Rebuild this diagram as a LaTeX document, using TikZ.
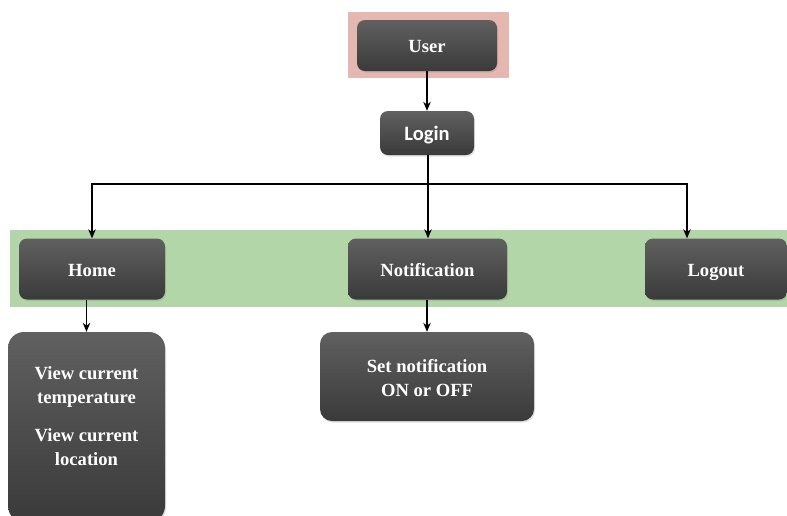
\documentclass[tikz,border=0pt]{standalone}
\usepackage{fontspec}
\setmainfont{Liberation Serif}
\newfontfamily\loginfont{Carlito}
\usetikzlibrary{arrows.meta,shadows}
\definecolor{boxtop}{HTML}{606060}
\definecolor{boxbot}{HTML}{3A3A3A}
\definecolor{pinkbg}{HTML}{E5B7B1}
\definecolor{greenbg}{HTML}{B3D6A8}
\tikzset{
  darkbox/.style={rounded corners=8, draw=none, top color=boxtop, bottom color=boxbot,
    text=white, align=center, inner sep=0,
    font=\bfseries\fontsize{18.6}{24}\selectfont,
    drop shadow={opacity=0.25, shadow xshift=1pt, shadow yshift=-1.5pt}},
  oneline/.style={text height=16, text depth=1.6},
  conn/.style={line width=1.3, draw=black},
  arr/.style={conn, -{Stealth[length=9,width=7.5]}}
}
\begin{document}
\begin{tikzpicture}[x=1pt,y=-1pt]
\useasboundingbox (0,0) rectangle (787,515);
\clip (0,0) rectangle (787,515);
\fill[white] (0,0) rectangle (787,515);
% backgrounds
\fill[pinkbg] (348,12) rectangle (509,78);
\fill[greenbg] (10,230) rectangle (787,307);
% nodes
\node[darkbox, oneline, minimum width=140, minimum height=51] (user) at (427,45.5) {User};
\node[darkbox, oneline, minimum width=94, minimum height=44, font=\loginfont\bfseries\fontsize{20.5}{24}\selectfont] (login) at (427,133) {Login};
\node[darkbox, oneline, minimum width=146, minimum height=61] (home) at (92,269) {Home};
\node[darkbox, oneline, minimum width=159, minimum height=61] (notif) at (427.5,269) {Notification};
\node[darkbox, oneline, minimum width=142, minimum height=61] (logout) at (716,269) {Logout};
\node[darkbox, rounded corners=16, minimum width=157, minimum height=190] (view) at (86.5,427)
  {View current\\temperature\\[14pt]View current\\location\\[-2pt]};
\node[darkbox, rounded corners=12, minimum width=214, minimum height=89] (setn) at (427,376.5)
  {\rule{0pt}{16pt}Set notification\\ON or OFF};
% connectors
\coordinate (j) at (428,184);
\draw[arr] (user) -- (login);
\draw[conn] (login.south -| j) -- (j);
\draw[arr] (j) -| (home.north);
\draw[arr] (j) -- (j |- notif.north);
\draw[arr] (j) -| ([xshift=-29pt]logout.north);
\draw[arr] (home.south -| view.north) -- (view.north);
\draw[arr] (notif.south -| setn.north) -- (setn.north);
\end{tikzpicture}
\end{document}
